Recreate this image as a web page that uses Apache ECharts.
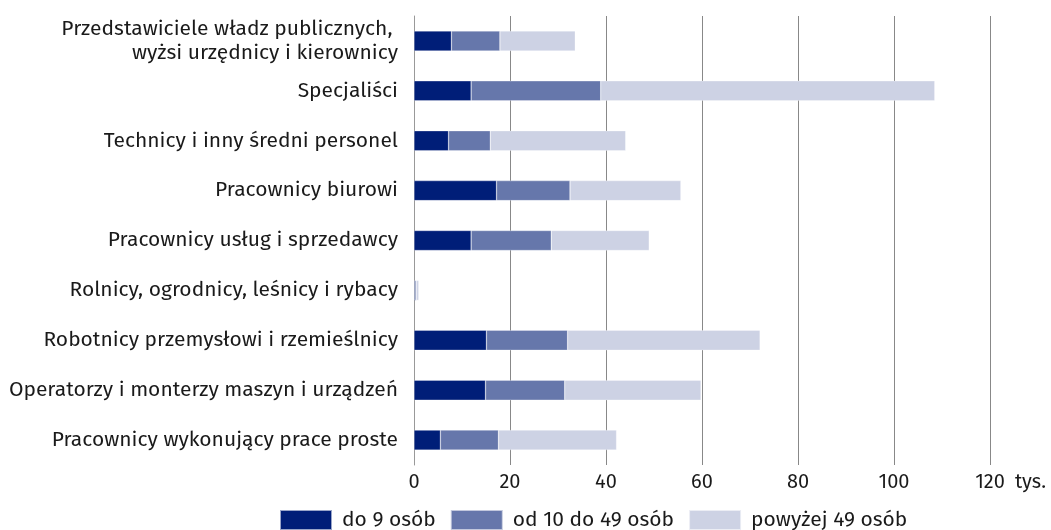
<!DOCTYPE html>
<html><head><meta charset="utf-8">
<script src="https://cdn.jsdelivr.net/npm/echarts@6/dist/echarts.min.js"></script>
<style>html,body{margin:0;padding:0;background:#fff}#c{width:1051px;height:530px}</style>
</head><body><div id="c"></div>
<script>
const categories = [
  'Przedstawiciele władz publicznych, \nwyżsi urzędnicy i kierownicy',
  'Specjaliści',
  'Technicy i inny średni personel',
  'Pracownicy biurowi',
  'Pracownicy usług i sprzedawcy',
  'Rolnicy, ogrodnicy, leśnicy i rybacy',
  'Robotnicy przemysłowi i rzemieślnicy',
  'Operatorzy i monterzy maszyn i urządzeń',
  'Pracownicy wykonujący prace proste'
];
const seriesNames = ['do 9 osób', 'od 10 do 49 osób', 'powyżej 49 osób'];
const small = [7.8, 11.9, 7.2, 17.2, 11.9, 0.2, 15.1, 14.9, 5.5];
const medium = [10.1, 27.0, 8.7, 15.3, 16.7, 0.3, 16.9, 16.5, 12.1];
const large = [15.7, 69.6, 28.2, 23.1, 20.4, 0.5, 40.1, 28.4, 24.6];
const colors = ['#001e78', '#6677ab', '#cdd2e4'];
const font = '"Fira Sans", "Noto Sans", sans-serif';
const fs = 20;

const chart = echarts.init(document.getElementById('c'), null, {renderer: 'canvas'});
const mk = (name, data, i) => ({
  name, type: 'bar', stack: 'all', data, barWidth: 20,
  itemStyle: {color: colors[i], borderColor: 'rgba(255,255,255,0.6)', borderWidth: 0.5},
  emphasis: {disabled: true}
});
chart.setOption({
  animation: false,
  textStyle: {fontFamily: font},
  grid: {left: 414, right: 61, top: 16, bottom: 65, containLabel: false},
  xAxis: {
    type: 'value', min: 0, max: 120, interval: 20,
    name: 'tys.', nameLocation: 'end', nameGap: 25,
    nameTextStyle: {color: '#1a1a1a', fontSize: fs, fontFamily: font, verticalAlign: 'top', padding: [7, 0, 0, 0]},
    axisLine: {show: false}, axisTick: {show: false},
    axisLabel: {color: '#1a1a1a', fontSize: fs, margin: 7, fontFamily: font},
    splitLine: {show: true, lineStyle: {color: '#888', width: 1}}
  },
  yAxis: {
    type: 'category', data: categories, inverse: true,
    axisLine: {show: true, lineStyle: {color: '#999', width: 1}},
    axisTick: {show: false},
    axisLabel: {color: '#1a1a1a', fontSize: 21, margin: 16, lineHeight: 24, align: 'right', fontFamily: font}
  },
  legend: {
    top: 504, left: 274, itemWidth: 52, itemHeight: 20, itemGap: 14,
    icon: 'rect',
    textStyle: {color: '#1a1a1a', fontSize: 21, fontFamily: font, padding: [0, 0, 0, 5]},
    data: seriesNames
  },
  series: [mk(seriesNames[0], small, 0), mk(seriesNames[1], medium, 1), mk(seriesNames[2], large, 2)]
});
</script></body></html>
